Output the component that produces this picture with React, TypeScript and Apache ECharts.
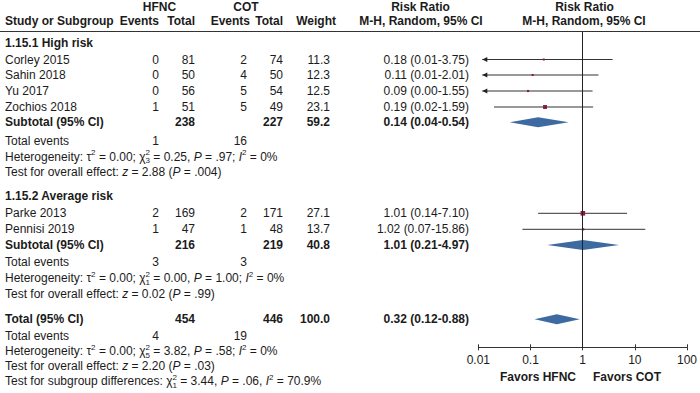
import React, { useEffect, useRef } from "react";
import * as echarts from "echarts";

// ---------------- DATA ----------------
const studies = ["Corley 2015", "Sahin 2018", "Yu 2017", "Zochios 2018", "Parke 2013", "Pennisi 2019"];
const hfncEvents = [0, 0, 0, 1, 2, 1];
const hfncTotal = [81, 50, 56, 51, 169, 47];
const cotEvents = [2, 4, 5, 5, 2, 1];
const cotTotal = [74, 50, 54, 49, 171, 48];
const weights = [11.3, 12.3, 12.5, 23.1, 27.1, 13.7];
const rr = [0.18, 0.11, 0.09, 0.19, 1.01, 1.02];
const rrLow = [0.01, 0.01, 0.0, 0.02, 0.14, 0.07];
const rrHigh = [3.75, 2.01, 1.55, 1.59, 7.1, 15.86];

const subgroupNames = ["1.15.1 High risk", "1.15.2 Average risk"];
const subHfncTotal = [238, 216];
const subCotTotal = [227, 219];
const subWeight = [59.2, 40.8];
const subHfncEvents = [1, 3];
const subCotEvents = [16, 3];
const subRR = [0.14, 1.01];
const subLow = [0.04, 0.21];
const subHigh = [0.54, 4.97];
const subTau2 = ["0.00", "0.00"];
const subChi2 = ["0.25", "0.00"];
const subDf = [3, 1];
const subHetP = [".97", "1.00"];
const subI2 = ["0%", "0%"];
const subZ = ["2.88", "0.02"];
const subZP = [".004", ".99"];

const totalHfnc = 454;
const totalCot = 446;
const totalWeight = 100.0;
const totalHfncEvents = 4;
const totalCotEvents = 19;
const totalRR = [0.32, 0.12, 0.88];
const totalHet = { tau2: "0.00", chi2: "3.82", df: 5, p: ".58", i2: "0%" };
const totalZ = { z: "2.20", p: ".03" };
const subgroupDiff = { chi2: "3.44", df: 1, p: ".06", i2: "70.9%" };

const axisTicks = [0.01, 0.1, 1, 10, 100];
const tickLabels = ["0.01", "0.1", "1", "10", "100"];

// ---------------- LAYOUT ----------------
const FONT = '"Liberation Sans", Arial, Helvetica, sans-serif';
const FS = 12;
const INK = "#1b1b1b";
const SQUARE = "#8a1c3c";
const DIAMOND = "#3d6aa0";
const LINE = "#333333";

const COL = { name: 5, hfncEv: 159, hfncTot: 195, cotEv: 247, cotTot: 283, weight: 330, rrText: 469 };
const studyRowY = [59.5, 75, 91, 107, 213.3, 229.3];
const sectionTitleY = [43, 196];
const subtotalY = [122.3, 245];
const subEventsY = [140.5, 261.5];
const subHetY = [156.5, 278];
const subTestY = [171.7, 294.3];
const totalY = 319.3;
const totalEventsY = 335.7;
const totalHetY = 351;
const totalTestY = 365.8;
const subgroupTestY = 381;

const PLOT_LEFT = 478.3;
const PLOT_RIGHT = 689.7;
const PLOT_TOP = 32;
const AXIS_Y = 347.3;

const rich = {
  i: { fontStyle: "italic", fontSize: FS, fontFamily: FONT, fill: INK, lineHeight: 16 },
  sup: { fontSize: 8, fontFamily: FONT, fill: INK, verticalAlign: "top", lineHeight: 10 },
  supz: { fontSize: 8, fontFamily: FONT, fill: INK, verticalAlign: "top", lineHeight: 10, width: 0 },
  sub: { fontSize: 8, fontFamily: FONT, fill: INK, verticalAlign: "bottom", lineHeight: 10 },
};

function txt(text: string, x: number, y: number, align: string = "left", bold = false, useRich = false) {
  return {
    type: "text",
    x,
    y,
    silent: true,
    style: {
      text,
      fill: INK,
      fontSize: FS,
      fontFamily: FONT,
      fontWeight: bold ? "bold" : "normal",
      lineHeight: 16,
      textAlign: align,
      textVerticalAlign: "middle",
      rich: useRich ? rich : undefined,
    },
  };
}

const fmtRR = (e: number, l: number, h: number) => `${e.toFixed(2)} (${l.toFixed(2)}-${h.toFixed(2)})`;
const hetText = (tau: string, chi: string, df: number, p: string, i2: string) =>
  `Heterogeneity: τ{sup|2} = ${tau}; χ{supz|2}{sub|${df}} = ${chi}, {i|P} = ${p}; {i|I}{sup|2} = ${i2}`;
const testText = (z: string, p: string) => `Test for overall effect: {i|z} = ${z} ({i|P} = ${p})`;

function buildGraphics() {
  const g: any[] = [];
  // header
  g.push(txt("HFNC", 159.5, 7, "center", true));
  g.push(txt("COT", 246, 7, "center", true));
  g.push(txt("Risk Ratio", 420.5, 7, "center", true));
  g.push(txt("Risk Ratio", 584.5, 7, "center", true));
  g.push(txt("Study or Subgroup", COL.name, 21, "left", true));
  g.push(txt("Events", COL.hfncEv, 21, "right", true));
  g.push(txt("Total", COL.hfncTot, 21, "right", true));
  g.push(txt("Events", 250, 21, "right", true));
  g.push(txt("Total", COL.cotTot, 21, "right", true));
  g.push(txt("Weight", 336, 21, "right", true));
  g.push(txt("M-H, Random, 95% CI", 421, 21, "center", true));
  g.push(txt("M-H, Random, 95% CI", 584, 21, "center", true));
  g.push({
    type: "line",
    silent: true,
    shape: { x1: 0, y1: 31.5, x2: 700, y2: 31.5 },
    style: { stroke: LINE, lineWidth: 1 },
  });

  const groupOf = [0, 0, 0, 0, 1, 1];
  subgroupNames.forEach((name, s) => {
    g.push(txt(name, COL.name, sectionTitleY[s], "left", true));
    studies.forEach((st, i) => {
      if (groupOf[i] !== s) return;
      const y = studyRowY[i];
      g.push(txt(st, COL.name, y));
      g.push(txt(String(hfncEvents[i]), COL.hfncEv, y, "right"));
      g.push(txt(String(hfncTotal[i]), COL.hfncTot, y, "right"));
      g.push(txt(String(cotEvents[i]), COL.cotEv, y, "right"));
      g.push(txt(String(cotTotal[i]), COL.cotTot, y, "right"));
      g.push(txt(weights[i].toFixed(1), COL.weight, y, "right"));
      g.push(txt(fmtRR(rr[i], rrLow[i], rrHigh[i]), COL.rrText, y, "right"));
    });
    const ys = subtotalY[s];
    g.push(txt("Subtotal (95% CI)", COL.name, ys, "left", true));
    g.push(txt(String(subHfncTotal[s]), COL.hfncTot, ys, "right", true));
    g.push(txt(String(subCotTotal[s]), COL.cotTot, ys, "right", true));
    g.push(txt(subWeight[s].toFixed(1), COL.weight, ys, "right", true));
    g.push(txt(fmtRR(subRR[s], subLow[s], subHigh[s]), COL.rrText, ys, "right", true));
    g.push(txt("Total events", COL.name, subEventsY[s]));
    g.push(txt(String(subHfncEvents[s]), COL.hfncEv, subEventsY[s], "right"));
    g.push(txt(String(subCotEvents[s]), COL.cotEv, subEventsY[s], "right"));
    g.push(txt(hetText(subTau2[s], subChi2[s], subDf[s], subHetP[s], subI2[s]), COL.name, subHetY[s], "left", false, true));
    g.push(txt(testText(subZ[s], subZP[s]), COL.name, subTestY[s], "left", false, true));
  });

  g.push(txt("Total (95% CI)", COL.name, totalY, "left", true));
  g.push(txt(String(totalHfnc), COL.hfncTot, totalY, "right", true));
  g.push(txt(String(totalCot), COL.cotTot, totalY, "right", true));
  g.push(txt(totalWeight.toFixed(1), COL.weight, totalY, "right", true));
  g.push(txt(fmtRR(totalRR[0], totalRR[1], totalRR[2]), COL.rrText, totalY, "right", true));
  g.push(txt("Total events", COL.name, totalEventsY));
  g.push(txt(String(totalHfncEvents), COL.hfncEv, totalEventsY, "right"));
  g.push(txt(String(totalCotEvents), COL.cotEv, totalEventsY, "right"));
  g.push(txt(hetText(totalHet.tau2, totalHet.chi2, totalHet.df, totalHet.p, totalHet.i2), COL.name, totalHetY, "left", false, true));
  g.push(txt(testText(totalZ.z, totalZ.p), COL.name, totalTestY, "left", false, true));
  g.push(
    txt(
      `Test for subgroup differences: χ{supz|2}{sub|${subgroupDiff.df}} = ${subgroupDiff.chi2}, {i|P} = ${subgroupDiff.p}, {i|I}{sup|2} = ${subgroupDiff.i2}`,
      COL.name,
      subgroupTestY,
      "left",
      false,
      true
    )
  );

  g.push(txt("Favors HFNC", 576, 377, "right", true));
  g.push(txt("Favors COT", 593, 377, "left", true));
  return g;
}

export default function App() {
  const ref = useRef<HTMLDivElement>(null);
  useEffect(() => {
    if (!ref.current) return;
    const chart = echarts.init(ref.current, undefined, { renderer: "svg" });
    const xMin = axisTicks[0];
    const xMax = axisTicks[axisTicks.length - 1];

    const studyData = studies.map((_, i) => [rr[i], rrLow[i], rrHigh[i], studyRowY[i], weights[i]]);
    const diamondData = [
      ...subRR.map((v, s) => [v, subLow[s], subHigh[s], subtotalY[s]]),
      [totalRR[0], totalRR[1], totalRR[2], totalY],
    ];

    const axisBase = {
      type: "log",
      logBase: 10,
      min: xMin,
      max: xMax,
      position: "bottom",
      splitLine: { show: false },
    };

    chart.setOption({
      animation: false,
      backgroundColor: "#ffffff",
      grid: { left: PLOT_LEFT, right: 700 - PLOT_RIGHT, top: PLOT_TOP, bottom: 393 - AXIS_Y },
      xAxis: [
        {
          ...axisBase,
          axisLine: { show: true, lineStyle: { color: LINE, width: 1 } },
          axisTick: { show: true, length: 3, lineStyle: { color: LINE } },
          axisLabel: {
            show: true,
            margin: 7,
            color: INK,
            fontSize: FS,
            fontFamily: FONT,
            formatter: (v: number) => {
              const k = axisTicks.findIndex((t) => Math.abs(Math.log10(t) - Math.log10(v)) < 1e-6);
              return k >= 0 ? tickLabels[k] : "";
            },
          },
        },
        {
          ...axisBase,
          axisLine: { show: false },
          axisTick: { show: true, inside: true, length: 3, lineStyle: { color: LINE } },
          axisLabel: { show: false },
        },
      ],
      yAxis: { type: "value", min: PLOT_TOP, max: AXIS_Y, inverse: true, show: false },
      graphic: buildGraphics(),
      series: [
        {
          type: "custom",
          xAxisIndex: 0,
          clip: false,
          encode: { x: 0, y: 3 },
          data: studyData,
          renderItem: (params: any, api: any) => {
            const est = api.value(0);
            const lo = api.value(1);
            const hi = api.value(2);
            const y = api.value(3);
            const w = api.value(4);
            const clipped = lo <= xMin;
            const pLo = api.coord([clipped ? xMin : lo, y]);
            const pHi = api.coord([Math.min(hi, xMax), y]);
            const pE = api.coord([est, y]);
            const lx = clipped ? pLo[0] + 4 : pLo[0];
            const py = pE[1];
            const size = Math.max(2, w * 0.17);
            const children: any[] = [
              {
                type: "line",
                shape: { x1: lx, y1: py, x2: pHi[0], y2: py },
                style: { stroke: LINE, lineWidth: 1 },
              },
              {
                type: "rect",
                shape: { x: pE[0] - size / 2, y: py - size / 2, width: size, height: size },
                style: { fill: SQUARE },
              },
            ];
            if (clipped) {
              children.push({
                type: "polygon",
                shape: { points: [[lx, py], [lx + 5, py - 2.5], [lx + 5, py + 2.5]] },
                style: { fill: "#222" },
              });
            }
            return { type: "group", children };
          },
          markLine: {
            silent: true,
            symbol: "none",
            label: { show: false },
            lineStyle: { color: "#222", width: 1, type: "solid" },
            data: [{ xAxis: 1 }],
          },
        },
        {
          type: "custom",
          xAxisIndex: 0,
          clip: false,
          encode: { x: 0, y: 3 },
          data: diamondData,
          renderItem: (params: any, api: any) => {
            const pE = api.coord([api.value(0), api.value(3)]);
            const pL = api.coord([api.value(1), api.value(3)]);
            const pH = api.coord([api.value(2), api.value(3)]);
            const h = 5;
            return {
              type: "polygon",
              shape: { points: [[pL[0], pE[1]], [pE[0], pE[1] - h], [pH[0], pE[1]], [pE[0], pE[1] + h]] },
              style: { fill: DIAMOND },
            };
          },
        },
      ],
    });
    return () => chart.dispose();
  }, []);

  return (
    <div
      ref={ref}
      style={{ position: "fixed", left: 0, top: 0, width: 700, height: 393, background: "#fff" }}
    />
  );
}
